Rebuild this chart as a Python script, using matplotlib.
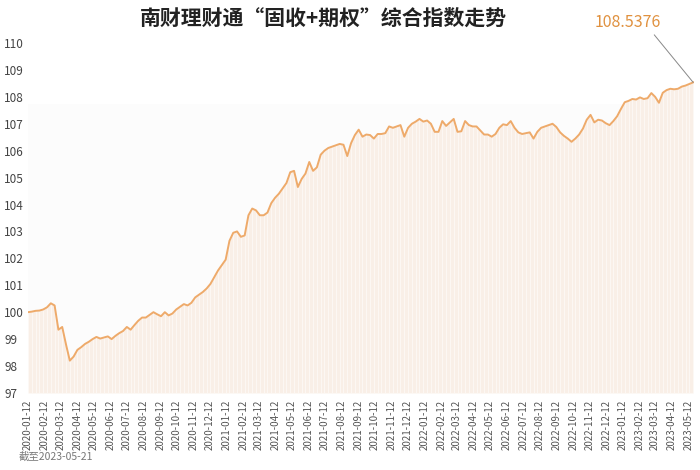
import numpy as np
import pandas as pd
import matplotlib
matplotlib.use("Agg")
import matplotlib.pyplot as plt

plt.rcParams['font.family'] = ['Noto Sans CJK SC', 'DejaVu Sans']

# weekly index values (2020-01-12 .. 2023-05-21)
values_2020 = [
    100.00, 100.02, 100.05, 100.06, 100.10, 100.18, 100.33, 100.25, 99.35, 99.45,
    98.80, 98.20, 98.35, 98.60, 98.70, 98.82, 98.90, 99.00, 99.08, 99.02,
    99.06, 99.10, 99.00, 99.12, 99.22, 99.30, 99.45, 99.35, 99.52, 99.68,
    99.80, 99.80, 99.90, 100.00, 99.92, 99.85, 100.00, 99.88, 99.95, 100.10,
    100.20, 100.30, 100.25, 100.35, 100.55, 100.65, 100.75, 100.88, 101.05, 101.30,
    101.55,
]
values_2021 = [
    101.75, 101.95, 102.65, 102.95, 103.00, 102.80, 102.85, 103.60, 103.85, 103.78,
    103.60, 103.60, 103.70, 104.05, 104.25, 104.40, 104.60, 104.80, 105.20, 105.25,
    104.65, 104.95, 105.15, 105.58, 105.25, 105.38, 105.85, 106.00, 106.10, 106.15,
    106.20, 106.25, 106.22, 105.80, 106.28, 106.58, 106.78, 106.52, 106.60, 106.58,
    106.45, 106.62, 106.62, 106.65, 106.90, 106.85, 106.90, 106.95, 106.52, 106.85,
    107.00, 107.08,
]
values_2022 = [
    107.18, 107.08, 107.12, 107.00, 106.70, 106.70, 107.10, 106.92, 107.05, 107.18,
    106.70, 106.72, 107.10, 106.95, 106.90, 106.90, 106.75, 106.60, 106.60, 106.52,
    106.62, 106.85, 106.98, 106.95, 107.10, 106.85, 106.68, 106.62, 106.65, 106.68,
    106.45, 106.70, 106.85, 106.90, 106.95, 107.00, 106.88, 106.68, 106.55, 106.45,
    106.33, 106.45, 106.60, 106.82, 107.15, 107.33, 107.05, 107.15, 107.12, 107.02,
    106.95, 107.10,
]
values_2023 = [
    107.28, 107.55, 107.80, 107.85, 107.92, 107.90, 107.98, 107.92, 107.95, 108.14,
    108.00, 107.78, 108.15, 108.25, 108.30, 108.28, 108.30, 108.38, 108.42, 108.48,
    108.5376,
]
values = np.array(values_2020 + values_2021 + values_2022 + values_2023)
dates = pd.date_range("2020-01-12", periods=len(values), freq="7D")

tick_dates = pd.date_range("2020-01-01", "2023-05-01", freq="MS") + pd.Timedelta(days=11)
tick_labels = [d.strftime("%Y-%m-%d") for d in tick_dates]

title = "南财理财通“固收+期权”综合指数走势"
last_label = "108.5376"
footer = "截至2023-05-21"

line_color = "#eeaa6a"
fill_color = "#f9efe7"
text_color = "#444444"

fig = plt.figure(figsize=(7, 4.7), dpi=100)
ax = fig.add_axes([0.04, 0.164, 0.951, 0.7445])

ymin, ymax = 97, 110
ax.axhspan(ymin, 107.75, color="#fcfcfc", zorder=0, lw=0)
ax.fill_between(dates, ymin, values, color=fill_color, lw=0, zorder=1)
ax.vlines(dates, ymin, values, color="#fdf9f6", lw=0.6, zorder=2)
ax.plot(dates, values, color=line_color, lw=1.4, zorder=3)

ax.set_ylim(ymin, ymax)
ax.set_xlim(dates[0], dates[-1] + pd.Timedelta(days=1))
ax.set_yticks(range(ymin, ymax + 1))
ax.set_xticks(tick_dates)
ax.set_xticklabels(tick_labels, rotation=90, fontsize=7, color="#555555")
for lab in ax.get_yticklabels():
    lab.set_horizontalalignment("left")
ax.tick_params(axis="y", length=0, pad=17, labelsize=8.5, labelcolor=text_color)
ax.tick_params(axis="x", length=0, pad=5)
for s in ax.spines.values():
    s.set_visible(False)

# last value callout
ax.annotate(last_label, xy=(dates[-1], values[-1]), xytext=(-47, 37),
            textcoords="offset points", ha="center", va="bottom",
            fontsize=11.5, color="#e0913f", annotation_clip=False,
            arrowprops=dict(arrowstyle="-", color="#888888", lw=0.7,
                            shrinkA=1, shrinkB=0, relpos=(0.85, 0)))

fig.text(0.462, 0.962, title, ha="center", va="center", fontsize=15,
         fontweight="bold", color="#222222")
fig.text(0.026, 0.017, footer, ha="left", va="bottom", fontsize=7.5, color="#777777")

fig.savefig("out.png", dpi=100)
